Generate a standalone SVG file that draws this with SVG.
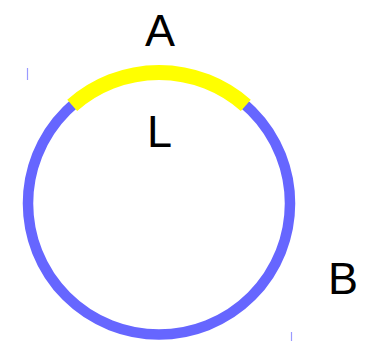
<svg xmlns="http://www.w3.org/2000/svg" width="369" height="341" viewBox="0 0 369 341">
<style>
.lbl{font-family:"Liberation Sans",Arial,sans-serif;font-size:45px;fill:#000;text-anchor:middle}
.tick{stroke:#9a9aff;stroke-width:1.2}
</style>
<rect width="369" height="341" fill="#fff"/>
<g id="connectors">
<line class="tick" x1="27.5" y1="68" x2="27.5" y2="80"/>
<line class="tick" x1="291.5" y1="332" x2="291.5" y2="341"/>
</g>
<g id="circle">
<circle cx="159" cy="203.5" r="131" fill="none" stroke="#6666ff" stroke-width="10.5"/>
</g>
<g id="arc">
<path d="M72.2 105.4 A131 131 0 0 1 245.8 105.4" fill="none" stroke="#ffff00" stroke-width="15"/>
</g>
<g id="A"><text class="lbl" x="160" y="45.5">A</text></g>
<g id="L"><text class="lbl" x="159.5" y="146.5">L</text></g>
<g id="B"><text class="lbl" x="343" y="294.3">B</text></g>
</svg>
